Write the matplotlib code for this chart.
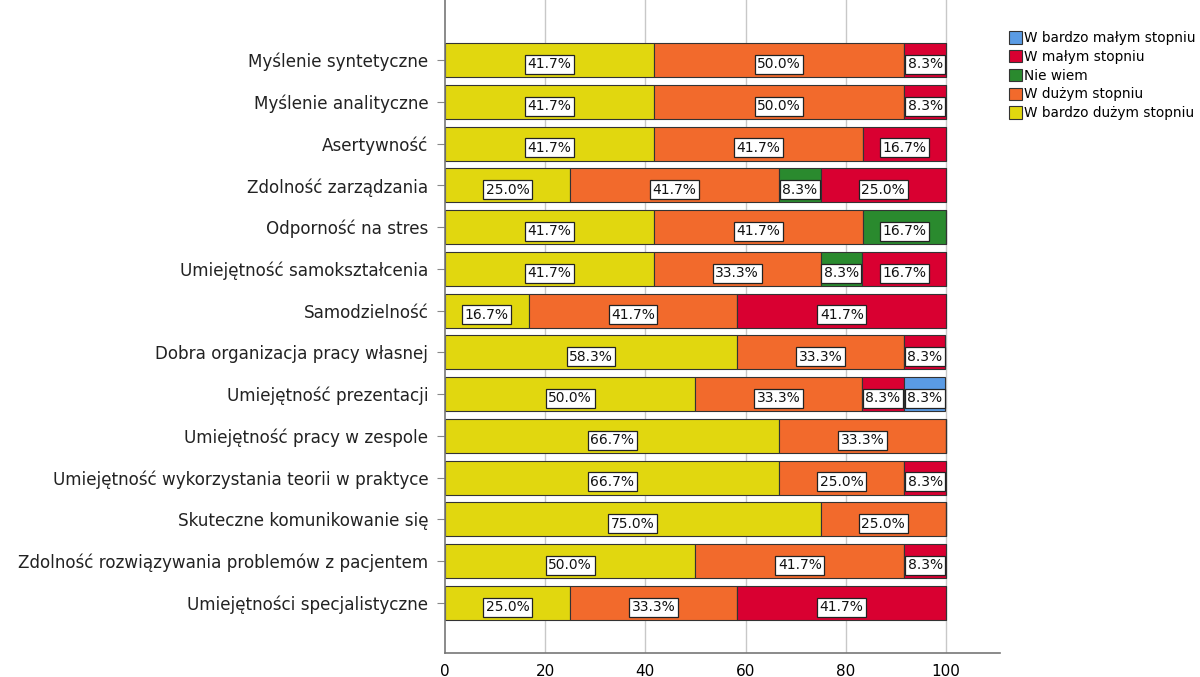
import matplotlib.pyplot as plt
import numpy as np

categories = [
    "Myślenie syntetyczne",
    "Myślenie analityczne",
    "Asertywność",
    "Zdolność zarządzania",
    "Odporność na stres",
    "Umiejętność samokształcenia",
    "Samodzielność",
    "Dobra organizacja pracy własnej",
    "Umiejętność prezentacji",
    "Umiejętność pracy w zespole",
    "Umiejętność wykorzystania teorii w praktyce",
    "Skuteczne komunikowanie się",
    "Zdolność rozwiązywania problemów z pacjentem",
    "Umiejętności specjalistyczne",
]

bardzo_duzym = [41.7, 41.7, 41.7, 25.0, 41.7, 41.7, 16.7, 58.3, 50.0, 66.7, 66.7, 75.0, 50.0, 25.0]
duzym        = [50.0, 50.0, 41.7, 41.7, 41.7, 33.3, 41.7, 33.3, 33.3, 33.3, 25.0, 25.0, 41.7, 33.3]
nie_wiem     = [0, 0, 0, 8.3, 16.7, 8.3, 0, 0, 0, 0, 0, 0, 0, 0]
malym        = [8.3, 8.3, 16.7, 25.0, 0, 16.7, 41.7, 8.3, 8.3, 0, 8.3, 0, 8.3, 41.7]
bardzo_malym = [0, 0, 0, 0, 0, 0, 0, 0, 8.3, 0, 0, 0, 0, 0]

series = [
    ("W bardzo dużym stopniu", bardzo_duzym, "#E1D70F"),
    ("W dużym stopniu", duzym, "#F26A2C"),
    ("Nie wiem", nie_wiem, "#2A8A2E"),
    ("W małym stopniu", malym, "#D90031"),
    ("W bardzo małym stopniu", bardzo_malym, "#5A9BE4"),
]

fig = plt.figure(figsize=(12, 6.77), dpi=100)
ax = fig.add_axes([0.3708, 0.0355, 0.4625, 0.9645])

y = np.arange(len(categories))
left = np.zeros(len(categories))
handles = []
for name, vals, color in series:
    vals = np.array(vals)
    h = ax.barh(y, vals, left=left, height=0.81, color=color,
                edgecolor="#333333", linewidth=0.8, label=name, zorder=2)
    handles.append(h)
    for yi, (l, v) in enumerate(zip(left, vals)):
        if v > 0:
            ax.text(l + v / 2, yi + 0.1, f"{v:.1f}%", ha="center", va="center",
                    fontsize=10, color="#111111", zorder=3,
                    bbox=dict(boxstyle="square,pad=0.18", fc="white",
                              ec="#222222", lw=0.9))
    left = left + vals

ax.set_xlim(0, 110.8)
ax.set_ylim(len(categories) - 1 + 1.2, -1.44)
ax.set_yticks(y)
ax.set_yticklabels(categories, fontsize=12.1, color="#222222")
ax.set_xticks([0, 20, 40, 60, 80, 100])
ax.tick_params(axis="x", length=0, labelsize=11, pad=8)
ax.tick_params(axis="y", length=6, color="#888888", pad=6)

for xv in [20, 40, 60, 80, 100]:
    ax.axvline(xv, color="#c8c8c8", linewidth=1.0, zorder=1)

for s in ["top", "right"]:
    ax.spines[s].set_visible(False)
ax.spines["left"].set_color("#777777")
ax.spines["bottom"].set_color("#777777")
ax.spines["left"].set_linewidth(1.2)
ax.spines["bottom"].set_linewidth(1.2)

fig.legend(handles[::-1], [s[0] for s in series][::-1],
           loc="upper left", bbox_to_anchor=(0.836, 0.962), frameon=False,
           fontsize=9.8, handlelength=1.0, handleheight=1.0, handletextpad=0.15,
           labelspacing=0.35, borderaxespad=0)

plt.savefig("out.png")
